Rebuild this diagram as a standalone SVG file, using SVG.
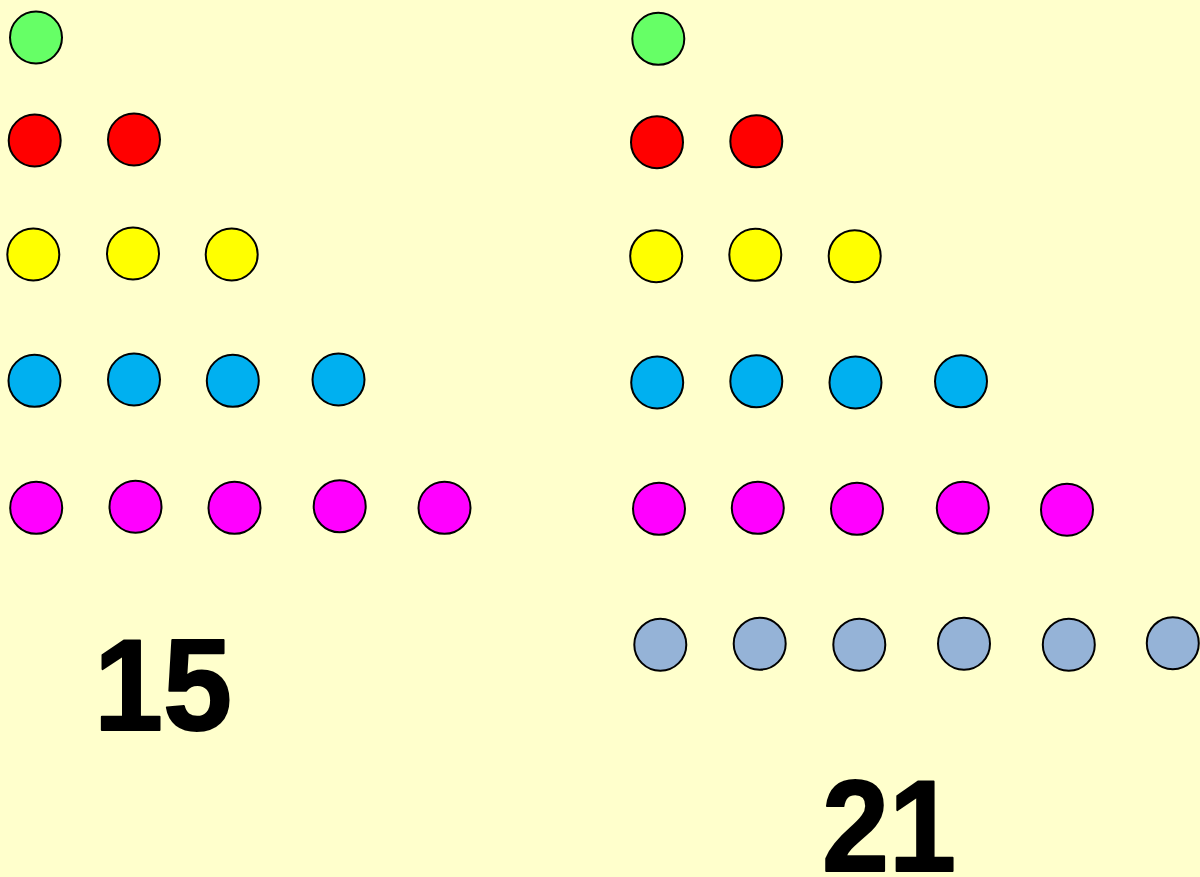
<svg xmlns="http://www.w3.org/2000/svg" width="1200" height="877" viewBox="0 0 1200 877">
<style>
.d{stroke:#000;stroke-width:2}
.g{fill:#66FF66}.r{fill:#FF0000}.y{fill:#FFFF00}.b{fill:#00B0F0}.m{fill:#FF00FF}.s{fill:#95B3D7}
.n{font-family:"Liberation Sans",Arial,sans-serif;font-weight:bold;font-size:129px;fill:#000;stroke:#000;stroke-width:2;stroke-linejoin:round;text-anchor:middle}
</style>
<rect width="1200" height="877" fill="#FFFFCC"/>
<g id="left">
<circle class="d g" cx="36" cy="37.5" r="26"/>
<circle class="d r" cx="34.7" cy="140.5" r="26"/>
<circle class="d r" cx="134" cy="139.5" r="26"/>
<circle class="d y" cx="33.3" cy="254.5" r="26"/>
<circle class="d y" cx="133" cy="253.5" r="26"/>
<circle class="d y" cx="231.7" cy="254.5" r="26"/>
<circle class="d b" cx="34.5" cy="380.8" r="26"/>
<circle class="d b" cx="134" cy="379.5" r="26"/>
<circle class="d b" cx="232.8" cy="380.8" r="26"/>
<circle class="d b" cx="338.5" cy="379.5" r="26"/>
<circle class="d m" cx="36.2" cy="507.8" r="26"/>
<circle class="d m" cx="135.5" cy="506.7" r="26"/>
<circle class="d m" cx="234.5" cy="507.8" r="26"/>
<circle class="d m" cx="339.7" cy="506.3" r="26"/>
<circle class="d m" cx="444.5" cy="507.8" r="26"/>
<text id="label15" class="n" x="163" y="730" textLength="138" lengthAdjust="spacingAndGlyphs">15</text>
</g>
<g id="right">
<circle class="d g" cx="658.3" cy="38.8" r="26"/>
<circle class="d r" cx="657" cy="142.2" r="26"/>
<circle class="d r" cx="756.3" cy="141.3" r="26"/>
<circle class="d y" cx="656.2" cy="256.2" r="26"/>
<circle class="d y" cx="755.3" cy="254.8" r="26"/>
<circle class="d y" cx="854.7" cy="256.2" r="26"/>
<circle class="d b" cx="657.2" cy="382.5" r="26"/>
<circle class="d b" cx="756.3" cy="381.3" r="26"/>
<circle class="d b" cx="855.5" cy="382.5" r="26"/>
<circle class="d b" cx="961" cy="381.3" r="26"/>
<circle class="d m" cx="659" cy="508.8" r="26"/>
<circle class="d m" cx="757.8" cy="507.8" r="26"/>
<circle class="d m" cx="857" cy="508.8" r="26"/>
<circle class="d m" cx="962.8" cy="507.8" r="26"/>
<circle class="d m" cx="1067" cy="509.7" r="26"/>
<circle class="d s" cx="660.3" cy="644.7" r="26"/>
<circle class="d s" cx="759.7" cy="643.7" r="26"/>
<circle class="d s" cx="859.3" cy="644.7" r="26"/>
<circle class="d s" cx="964" cy="643.7" r="26"/>
<circle class="d s" cx="1068.8" cy="644.7" r="26"/>
<circle class="d s" cx="1172.8" cy="643.2" r="26"/>
<text id="label21" class="n" x="889" y="871" textLength="134" lengthAdjust="spacingAndGlyphs">21</text>
</g>
</svg>
